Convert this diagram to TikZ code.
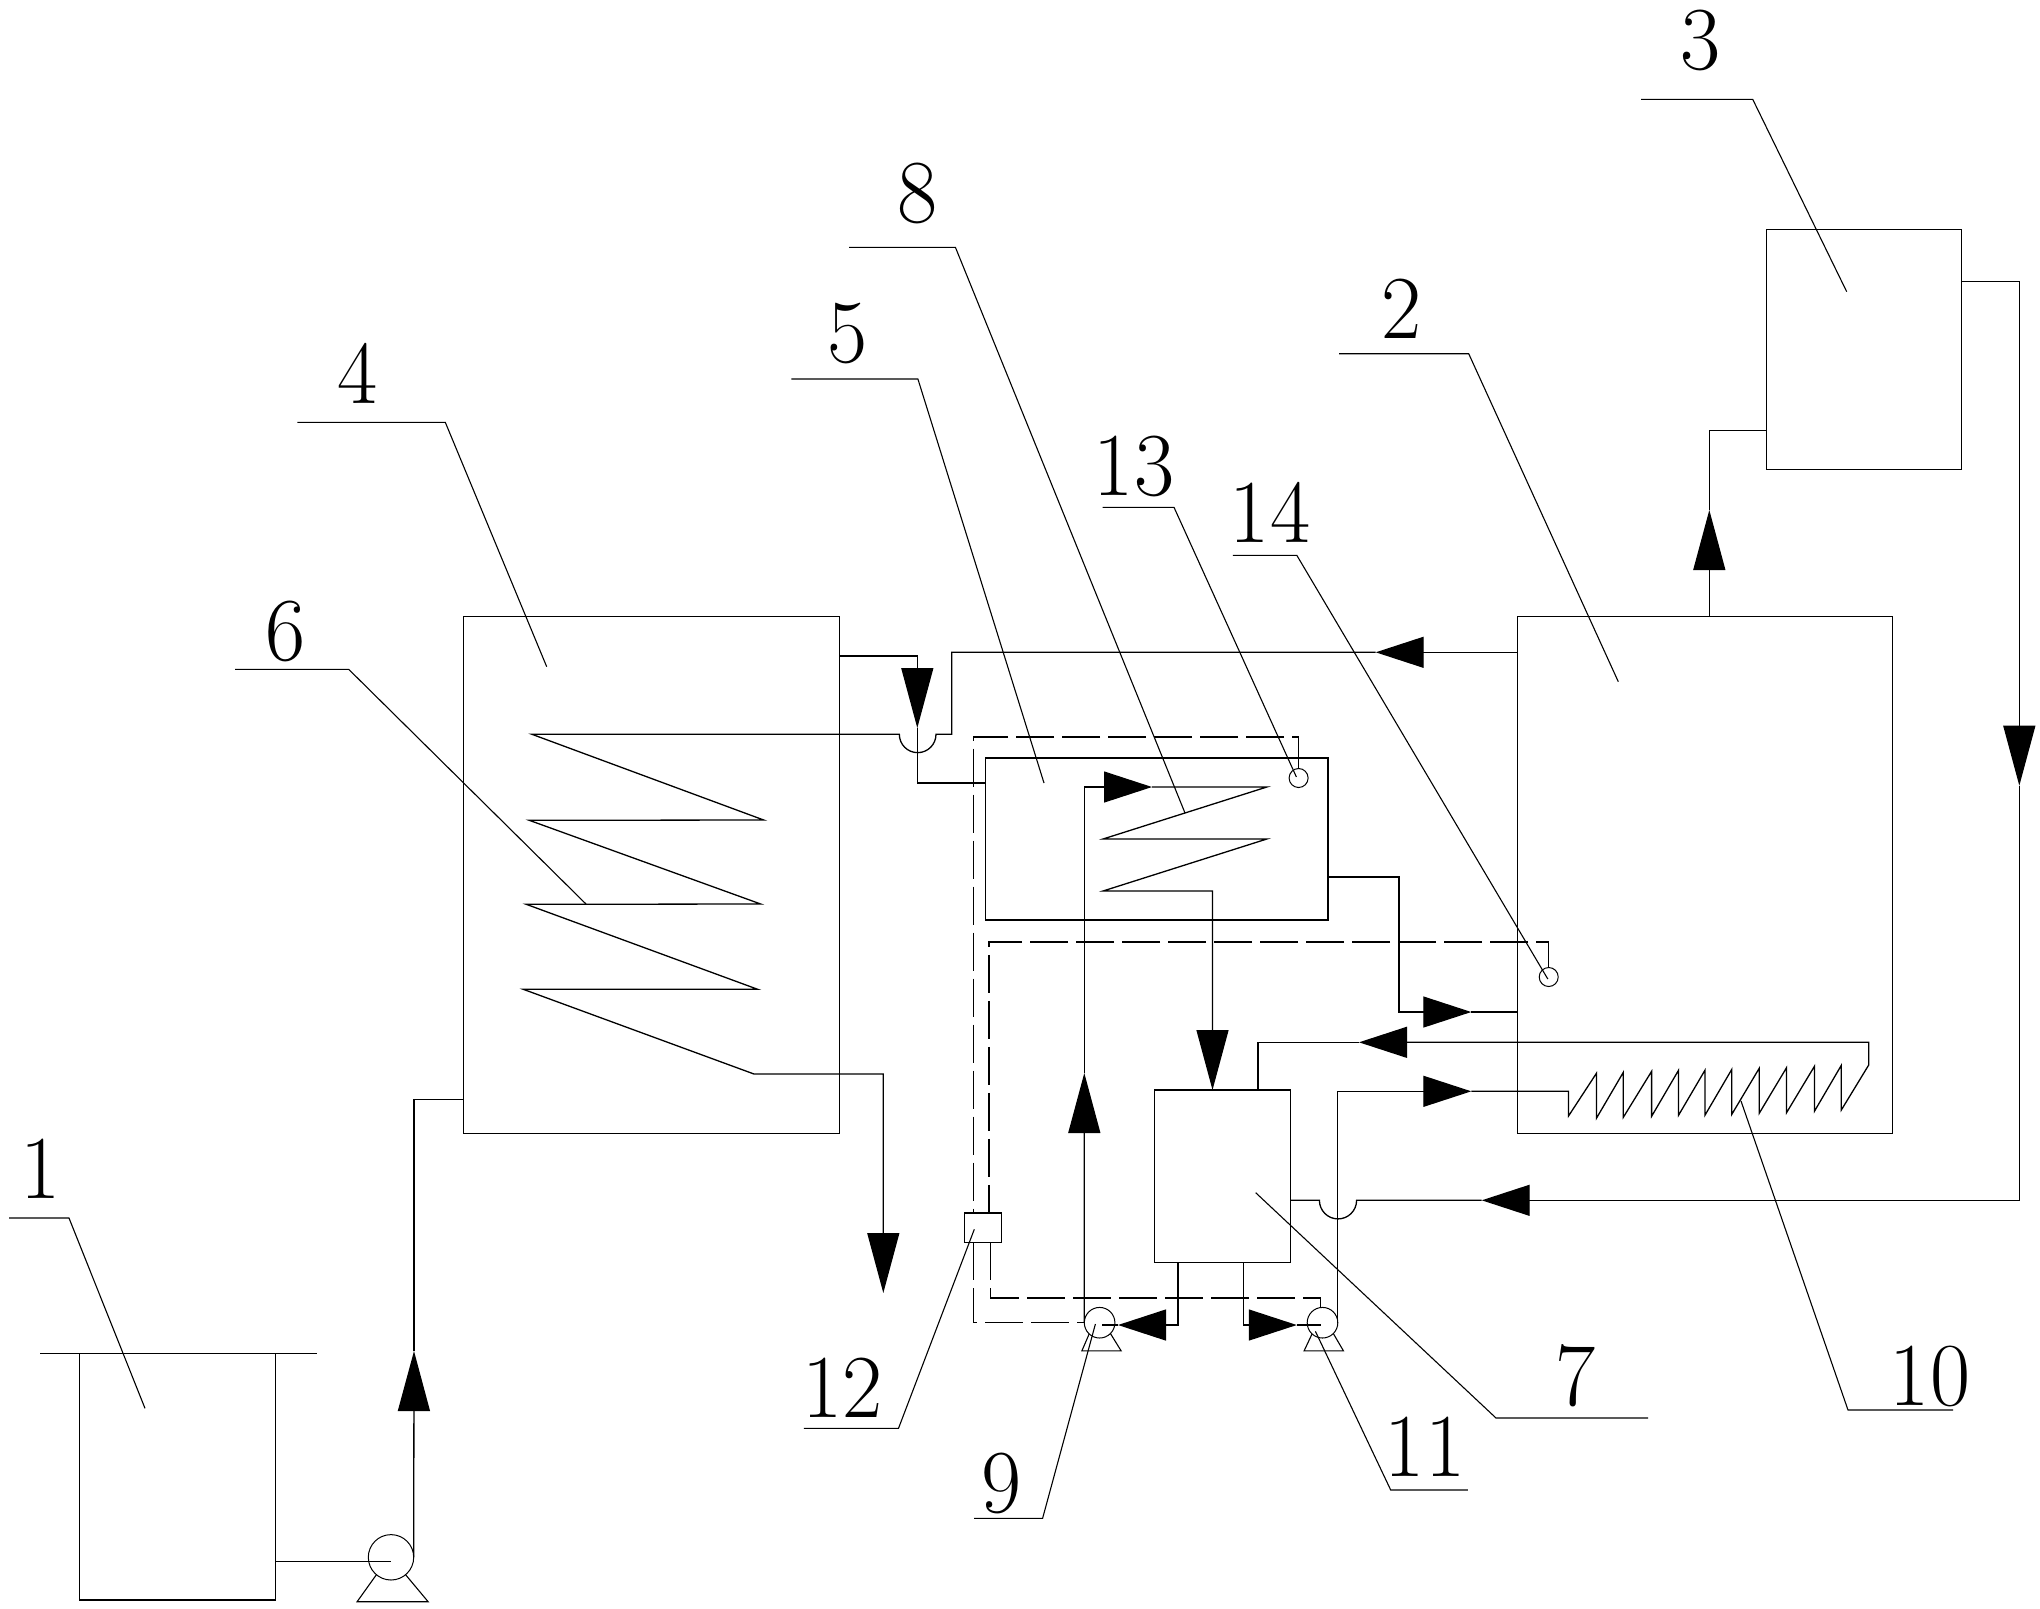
\documentclass[tikz,border=0pt]{standalone}
\usepackage{tikz}
\usetikzlibrary{arrows.meta}

\tikzset{
  vessel/.style={draw,line width=.65pt,inner sep=0pt,outer sep=0pt},
  dot/.style={draw,circle,line width=.5pt,inner sep=0pt,outer sep=0pt},
  pipe/.style={line width=.65pt},
  signal/.style={line width=.65pt,dash pattern=on 19pt off 4pt},
  leader/.style={line width=.55pt},
  flowv/.style={-{Triangle[length=30pt,width=16pt]}},
  flowh/.style={-{Triangle[length=24pt,width=15.5pt]}},
  tag/.style={anchor=base,inner sep=0pt,xscale=.97,transform shape,font=\fontsize{45}{50}\selectfont}
}

\begin{document}
\begin{tikzpicture}[x=.5pt,y=-.5pt]
             \useasboundingbox (0,0) rectangle (2040,1608);

             \node[vessel,minimum width=98pt,minimum height=123.4pt] (box1) at (177.3,1476.7) {};
             \node[vessel,minimum width=187.5pt,minimum height=258.5pt] (box2) at (1704.8,874.8) {};
             \node[vessel,minimum width=97.7pt,minimum height=120pt] (box3) at (1864,349.3) {};
             \node[vessel,minimum width=188pt,minimum height=258.5pt] (box4) at (651.3,874.8) {};
             \node[vessel,minimum width=171.3pt,minimum height=81pt] (box5) at (1156.7,839) {};
             \node[vessel,minimum width=68pt,minimum height=86.2pt] (box7) at (1222.4,1176.2) {};
             \node[vessel,minimum width=18.5pt,minimum height=14.7pt] (box12) at (982.9,1227.7) {};

             \node[dot,minimum size=22.7pt] (pump0) at (391,1557.3) {};
             \node[dot,minimum size=15.3pt] (pump9) at (1099.6,1322.7) {};
             \node[dot,minimum size=15.3pt] (pump11) at (1322.5,1322.7) {};
             \node[dot,minimum size=9.5pt] (sensor13) at (1298.6,778) {};
             \node[dot,minimum size=9.5pt] (sensor14) at (1548.7,977) {};

             \draw[pipe] (40,1353.3) -- (317,1353.3);

             \draw[leader] (pump0.-130) -- ++(-19.3,27) -- ++(71,0) -- (pump0.-50);
             \draw[leader] (pump9.-133) -- ++(-7.3,17) -- ++(39.3,0) -- (pump9.-45);
             \draw[leader] (pump11.-133) -- ++(-8,17) -- ++(39.4,0) -- (pump11.-45);

             \coordinate (tipa) at (414,1351);
             \coordinate (tipb) at (883.3,1293);
             \coordinate (tipc) at (1375.7,652.3);
             \coordinate (tipd) at (917.3,728);
             \coordinate (tipe) at (1084.3,1073);
             \coordinate (tipf) at (1152,787);
             \coordinate (tipg) at (1212.5,1090);
             \coordinate (tiph) at (1471.3,1012);
             \coordinate (tipi) at (1471.3,1091.3);
             \coordinate (tipj) at (1359,1042.3);
             \coordinate (tipk) at (1118,1325);
             \coordinate (tipl) at (1296.8,1325);
             \coordinate (tipm) at (2019.3,785.7);
             \coordinate (tipn) at (1481.7,1200.3);
             \coordinate (tipo) at (1709.3,510);

             \draw[pipe] (box1.east |- 0,1561.3) -- (pump0.center |- 0,1561.3);
             \draw[pipe,flowv] (pump0.east) -- (tipa);
             \draw[pipe] (tipa) |- (box4.west |- 0,1099.6);

             \draw[pipe,flowh] (box2.west |- tipc) -- (tipc);
             \draw[pipe,flowv] (tipc) -| (951.7,734.3) -- (936,734.3)
                  arc[start angle=0,end angle=-180,radius=9.17pt]
                  -- (532,734.3) -- (763.7,820) -- (529.3,820.3) -- (760.7,904)
                  -- (526.3,904.3) -- (757.7,989.3) -- (523.3,989.3) -- (754,1074)
                  -- (883.3,1074) -- (tipb);

             \draw[pipe,flowv] (box4.east |- 0,656) -| (tipd);
             \draw[pipe] (tipd) |- (box5.west |- 0,783);

             \draw[pipe,flowv] (pump9.west) -- (tipe);
             \draw[pipe,flowh] (tipe) |- (tipf);
             \draw[pipe,flowv] (tipf) -- (1266.8,787) -- (1103,839) -- (1266.8,839)
                  -- (1103,891) -- (1212.5,891) -- (tipg);

             \draw[pipe,flowh] (box5.east |- 0,877) -| (1399,1012) -- (tiph);
             \draw[pipe] (tiph) -- (box2.west |- tiph);

             \draw[pipe,flowh] (pump11.east) |- (tipi);
             \draw[pipe,flowh] (tipi) -- (1568.5,1091.3) -- (1568.5,1116)
                  -- (1596.4,1073.3) -- (1596.4,1118.3) -- (1623.3,1072.3) -- (1623.3,1117.3)
                  -- (1651.6,1071.3) -- (1651.6,1116.3) -- (1678.5,1070.3) -- (1678.5,1115.3)
                  -- (1704.9,1070.3) -- (1704.9,1115.3) -- (1731.8,1069.3) -- (1731.8,1114.3)
                  -- (1759.2,1068.3) -- (1759.2,1113.3) -- (1786.5,1067.7) -- (1786.5,1112.7)
                  -- (1814.4,1066.3) -- (1814.4,1111.3) -- (1841.3,1065.3) -- (1841.3,1110)
                  -- (1868.7,1065) -- (1868.7,1042.3) -- (tipj);
             \draw[pipe] (tipj) -| (1258,0 |- box7.north);

             \draw[pipe,flowh] (1178,0 |- box7.south) |- (tipk);
             \draw[pipe] (tipk) -- (1102,1325);
             \draw[pipe,flowh] (1243.6,0 |- box7.south) |- (tipl);
             \draw[pipe] (tipl) -- (1320.7,1325);

             \draw[pipe,flowv] (box3.east |- 0,281.3) -| (tipm);
             \draw[pipe,flowh] (tipm) |- (tipn);
             \draw[pipe] (tipn) -- (1356.6,1200.3)
                  arc[start angle=0,end angle=-180,radius=9.3pt]
                  -- (box7.east |- tipn);

             \draw[pipe,flowv] (tipo |- box2.north) -- (tipo);
             \draw[pipe] (tipo) |- (box3.west |- 0,430.3);

             \draw[signal] (sensor13.north) |- (973.6,737) -- (973.6,0 |- box12.north);
             \draw[signal] (973.6,0 |- box12.south) |- (pump9.west);
             \draw[signal] (sensor14.north) |- (989,942) -- (989,0 |- box12.north);
             \draw[signal] (990.7,0 |- box12.south) |- (1320.7,1298) -- (1320.7,0 |- pump11.north);

             \node[tag] (tag1) at (40.5,1198) {1};
             \node[tag] (tag2) at (1401.7,338.3) {2};
             \node[tag] (tag3) at (1701,69) {3};
             \node[tag] (tag4) at (358,403) {4};
             \node[tag] (tag5) at (847.9,362.3) {5};
             \node[tag] (tag6) at (285.7,660.7) {6};
             \node[tag] (tag7) at (1576,1405) {7};
             \node[tag] (tag8) at (917.5,222.3) {8};
             \node[tag] (tag9) at (1001.3,1512.7) {9};
             \node[tag] (tag10) at (1930,1405) {10};
             \node[tag] (tag11) at (1425,1476) {11};
             \node[tag] (tag12) at (842.5,1417.7) {12};
             \node[tag] (tag13) at (1134,495) {13};
             \node[tag] (tag14) at (1270,542.7) {14};

             \coordinate (foot1) at (145,1408.3);
             \coordinate (foot2) at (1618.3,681.7);
             \coordinate (foot3) at (1846.7,291.7);
             \coordinate (foot4) at (546.7,666.7);
             \coordinate (foot5) at (1044,783);
             \coordinate (foot6) at (586,904);
             \coordinate (foot7) at (1255.7,1192.7);
             \coordinate (foot8) at (1185,813);
             \coordinate (foot9) at (1095.4,1324);
             \coordinate (foot10) at (1741,1101);
             \coordinate (foot11) at (1315.4,1331.3);
             \coordinate (foot12) at (974.3,1229.3);
             \coordinate (foot13) at (1296.4,777);
             \coordinate (foot14) at (1547.8,979);

             \draw[leader] (9,1218) -- (69,1218) -- (foot1);
             \draw[leader] (1339,353.7) -- (1468.7,353.7) -- (foot2);
             \draw[leader] (1641,99.3) -- (1752.7,99.3) -- (foot3);
             \draw[leader] (297.3,422.3) -- (445.3,422.3) -- (foot4);
             \draw[leader] (791.4,379) -- (917.9,379) -- (foot5);
             \draw[leader] (235,669.3) -- (348.7,669.3) -- (foot6);
             \draw[leader] (1648,1418) -- (1496,1418) -- (foot7);
             \draw[leader] (849,247.3) -- (955.4,247.3) -- (foot8);
             \draw[leader] (974.2,1518.3) -- (1042.6,1518.3) -- (foot9);
             \draw[leader] (1953,1410) -- (1848,1410) -- (foot10);
             \draw[leader] (1467.8,1490) -- (1390.7,1490) -- (foot11);
             \draw[leader] (803.9,1428.3) -- (898.5,1428.3) -- (foot12);
             \draw[leader] (1102.5,507.3) -- (1174,507.3) -- (foot13);
             \draw[leader] (1232.9,555.3) -- (1296.8,555.3) -- (foot14);
             \end{tikzpicture}
\end{document}
